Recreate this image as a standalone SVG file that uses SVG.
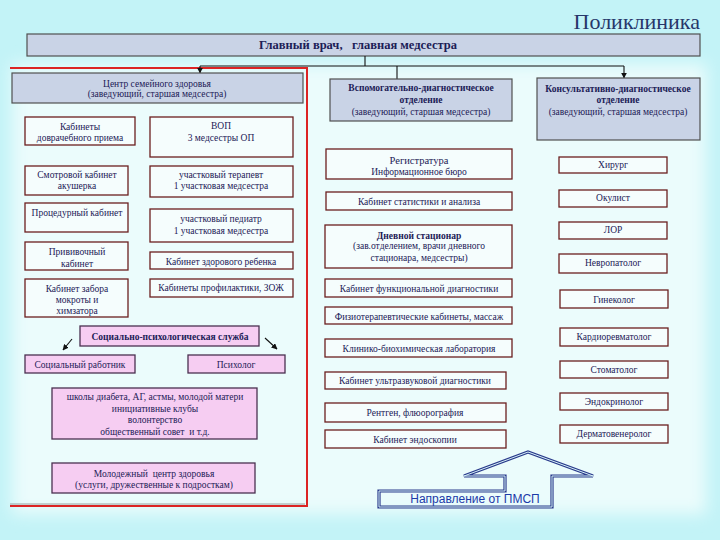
<svg xmlns="http://www.w3.org/2000/svg" width="720" height="540" viewBox="0 0 720 540">
<defs>
<style>
.bx{fill:#f5fdfd;stroke:#6b1f1f;stroke-width:1.3}
.hd{fill:#c9d3e6;stroke:#505050;stroke-width:1.2}
.pk{fill:#f6cdf2;stroke:#4a3050;stroke-width:1.3}
.t{font-family:'Liberation Serif','Times New Roman',serif;font-size:9.5px;fill:#1c2056;text-anchor:middle}
.b{font-weight:bold}
.pre{white-space:pre}
.cn{stroke:#111;stroke-width:1.1;fill:none}
</style>
<marker id="ah" viewBox="0 0 10 10" refX="9" refY="5" markerWidth="6" markerHeight="6" orient="auto" markerUnits="userSpaceOnUse">
<path d="M0,0 L10,5 L0,10 z" fill="#111"/>
</marker>
<filter id="blur" x="-10%" y="-10%" width="120%" height="120%"><feGaussianBlur stdDeviation="8"/></filter>
</defs>
<rect width="720" height="540" fill="#c3f3f7"/>
<rect x="12" y="64" width="694" height="450" fill="#ebfcfc" filter="url(#blur)"/>
<text x="700" y="29" font-family="'Liberation Serif','Times New Roman',serif" font-size="22" fill="#26366a" text-anchor="end">Поликлиника</text>
<path d="M10,68 H307 V506 H10" fill="none" stroke="#dc2424" stroke-width="2"/>
<path d="M10,504 H305" fill="none" stroke="#888" stroke-width="0.8"/>
<g id="top"><rect class="hd" x="27" y="34" width="673" height="22"/><text class="t b pre" x="358" y="49" style="font-size:12.5px" xml:space="preserve">Главный врач,   главная медсестра</text></g>
<g id="connectors">
<path class="cn" d="M365,56 V66"/>
<path class="cn" d="M200,66 H624"/>
<path class="cn" d="M200,66 V73" marker-end="url(#ah)"/>
<path class="cn" d="M624,66 V78" marker-end="url(#ah)"/>
<path class="cn" d="M397,66 V79"/>
<path class="cn" d="M72,339 L63,350" marker-end="url(#ah)"/>
<path class="cn" d="M265,338 L277,349" marker-end="url(#ah)"/>
</g>
<g id="csz"><rect class="hd" x="12" y="73" width="291" height="30"/><text class="t" x="157" y="87">Центр семейного здоровья</text><text class="t" x="157" y="97">(заведующий, старшая медсестра)</text></g>
<g id="n1"><rect class="bx" x="25" y="117" width="110" height="28"/><text class="t" x="80" y="130">Кабинеты</text><text class="t" x="80" y="141">доврачебного приема</text></g>
<g id="n2"><rect class="bx" x="150" y="117" width="143" height="40"/><text class="t" x="221" y="129">ВОП</text><text class="t" x="221" y="141">3 медсестры ОП</text></g>
<g id="n3"><rect class="bx" x="25" y="166" width="103" height="29"/><text class="t" x="77" y="178">Смотровой кабинет</text><text class="t" x="77" y="189">акушерка</text></g>
<g id="n4"><rect class="bx" x="150" y="166" width="143" height="31"/><text class="t" x="221" y="178">участковый терапевт</text><text class="t" x="221" y="189">1 участковая медсестра</text></g>
<g id="n5"><rect class="bx" x="25" y="203" width="103" height="29"/><text class="t" x="77" y="216">Процедурный кабинет</text></g>
<g id="n6"><rect class="bx" x="150" y="209" width="143" height="33"/><text class="t" x="221" y="222">участковый педиатр</text><text class="t" x="221" y="234">1 участковая медсестра</text></g>
<g id="n7"><rect class="bx" x="25" y="242" width="103" height="28"/><text class="t" x="77" y="255">Прививочный</text><text class="t" x="77" y="267">кабинет</text></g>
<g id="n8"><rect class="bx" x="150" y="252" width="143" height="17"/><text class="t" x="221" y="265">Кабинет здорового ребенка</text></g>
<g id="n9"><rect class="bx" x="25" y="279" width="103" height="38"/><text class="t" x="77" y="292">Кабинет забора</text><text class="t" x="77" y="303">мокроты и</text><text class="t" x="77" y="314">химзатора</text></g>
<g id="n10"><rect class="bx" x="150" y="279" width="143" height="18"/><text class="t" x="221" y="291">Кабинеты профилактики, ЗОЖ</text></g>
<g id="sps"><rect class="pk" x="80" y="326" width="179" height="20"/><text class="t b" x="170" y="340">Социально-психологическая служба</text></g>
<g id="sw"><rect class="pk" x="25" y="355" width="110" height="18"/><text class="t" x="80" y="368">Социальный работник</text></g>
<g id="psy"><rect class="pk" x="188" y="355" width="97" height="18"/><text class="t" x="236" y="368">Психолог</text></g>
<g id="schools"><rect class="pk" x="52" y="388" width="205" height="51"/><text class="t" x="155" y="400">школы диабета, АГ, астмы, молодой матери</text><text class="t" x="155" y="412">инициативные клубы</text><text class="t" x="155" y="423">волонтерство</text><text class="t pre" x="155" y="435" xml:space="preserve">общественный совет  и т.д.</text></g>
<g id="youth"><rect class="pk" x="52" y="463" width="203" height="30"/><text class="t pre" x="154" y="477" xml:space="preserve">Молодежный  центр здоровья</text><text class="t" x="154" y="488">(услуги, дружественные к подросткам)</text></g>
<g id="vdo"><rect class="hd" x="330" y="79" width="182" height="42"/><text class="t b" x="421" y="91">Вспомогательно-диагностическое</text><text class="t b" x="421" y="103">отделение</text><text class="t" x="421" y="115">(заведующий, старшая медсестра)</text></g>
<g id="m1"><rect class="bx" x="326" y="149" width="186" height="30"/><text class="t" x="419" y="164" style="font-size:10.5px">Регистратура</text><text class="t" x="419" y="175">Информационное бюро</text></g>
<g id="m2"><rect class="bx" x="326" y="192" width="186" height="18"/><text class="t" x="419" y="205">Кабинет статистики и анализа</text></g>
<g id="m3"><rect class="bx" x="325" y="225" width="187" height="43"/><text class="t b" x="419" y="239">Дневной стационар</text><text class="t" x="419" y="249">(зав.отделением, врачи дневного</text><text class="t" x="419" y="261">стационара, медсестры)</text></g>
<g id="m4"><rect class="bx" x="325" y="279" width="187" height="18"/><text class="t" x="419" y="292">Кабинет функциональной диагностики</text></g>
<g id="m5"><rect class="bx" x="325" y="307" width="187" height="17"/><text class="t" x="419" y="320">Физиотерапевтические кабинеты, массаж</text></g>
<g id="m6"><rect class="bx" x="325" y="339" width="187" height="18"/><text class="t" x="419" y="352">Клинико-биохимическая лаборатория</text></g>
<g id="m7"><rect class="bx" x="325" y="372" width="181" height="17"/><text class="t" x="415" y="384">Кабинет ультразвуковой диагностики</text></g>
<g id="m8"><rect class="bx" x="325" y="403" width="181" height="19"/><text class="t" x="415" y="416">Рентген, флюорография</text></g>
<g id="m9"><rect class="bx" x="325" y="430" width="181" height="18"/><text class="t" x="415" y="443">Кабинет эндоскопии</text></g>
<g id="kdo"><rect class="hd" x="537" y="78" width="163" height="62"/><text class="t b" x="618" y="92">Консультативно-диагностическое</text><text class="t b" x="618" y="103">отделение</text><text class="t" x="618" y="115">(заведующий, старшая медсестра)</text></g>
<g id="r1"><rect class="bx" x="559" y="157" width="108" height="16"/><text class="t" x="613" y="168">Хирург</text></g>
<g id="r2"><rect class="bx" x="559" y="190" width="108" height="17"/><text class="t" x="613" y="201">Окулист</text></g>
<g id="r3"><rect class="bx" x="559" y="222" width="108" height="17"/><text class="t" x="613" y="233">ЛОР</text></g>
<g id="r4"><rect class="bx" x="559" y="254" width="108" height="19"/><text class="t" x="613" y="266">Невропатолог</text></g>
<g id="r5"><rect class="bx" x="560" y="290" width="108" height="18"/><text class="t" x="614" y="303">Гинеколог</text></g>
<g id="r6"><rect class="bx" x="560" y="328" width="108" height="18"/><text class="t" x="614" y="340">Кардиоревматолог</text></g>
<g id="r7"><rect class="bx" x="560" y="361" width="108" height="17"/><text class="t" x="614" y="373">Стоматолог</text></g>
<g id="r8"><rect class="bx" x="560" y="393" width="108" height="17"/><text class="t" x="614" y="405">Эндокринолог</text></g>
<g id="r9"><rect class="bx" x="560" y="425" width="108" height="18"/><text class="t" x="614" y="437">Дерматовенеролог</text></g>
<g id="pmsp">
<path d="M379,491 H505 V476 H464 L528,452 L593,476 H552 V507 H379 Z" fill="none" stroke="#2a3a8c" stroke-width="3.2" stroke-linejoin="miter"/>
<path d="M379,491 H505 V476 H464 L528,452 L593,476 H552 V507 H379 Z" fill="none" stroke="#d8f4f8" stroke-width="1"/>
<text x="475" y="503" font-family="'Liberation Sans',Arial,sans-serif" font-size="12" fill="#1c3aa8" text-anchor="middle">Направление от ПМСП</text>
</g>
</svg>
